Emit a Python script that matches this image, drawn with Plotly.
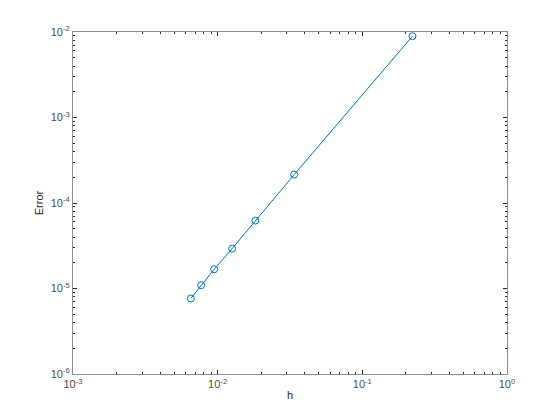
import plotly.graph_objects as go

h_values = [0.00653, 0.00769, 0.00946, 0.01259, 0.01824, 0.0338, 0.222]
error_values = [7.64e-6, 1.094e-5, 1.68e-5, 2.93e-5, 6.22e-5, 2.15e-4, 8.93e-3]

x_tickvals = [1e-3, 1e-2, 1e-1, 1e0]
x_ticktext = ["10<sup>-3</sup>", "10<sup>-2</sup>", "10<sup>-1</sup>", "10<sup>0</sup>"]
y_tickvals = [1e-6, 1e-5, 1e-4, 1e-3, 1e-2]
y_ticktext = ["10<sup>-6</sup>", "10<sup>-5</sup>", "10<sup>-4</sup>", "10<sup>-3</sup>", "10<sup>-2</sup>"]
minor_mults = [2, 3, 4, 5, 6, 7, 8, 9]
x_minor = [m * d for d in x_tickvals[:-1] for m in minor_mults]
y_minor = [m * d for d in y_tickvals[:-1] for m in minor_mults]

blue = "#0072BD"
axis_color = "#8c8c8c"
tick_color = "#262626"
text_color = "#4d4d4d"
font_family = "Liberation Sans, Arial, sans-serif"

fig = go.Figure()
fig.add_trace(go.Scatter(
    x=h_values, y=error_values, mode="lines+markers",
    line=dict(color=blue, width=1),
    marker=dict(symbol="circle-open", size=7, color=blue, line=dict(width=1, color=blue)),
    showlegend=False,
))
# invisible trace to anchor the minor-tick overlay axes
fig.add_trace(go.Scatter(x=[h_values[0]], y=[error_values[0]], xaxis="x2", yaxis="y2",
                         mode="markers", marker=dict(opacity=0), showlegend=False, hoverinfo="skip"))

major = dict(
    type="log", showgrid=False, zeroline=False, automargin=False,
    showline=True, linecolor=axis_color, linewidth=1, mirror="ticks",
    ticks="inside", ticklen=4, tickcolor=tick_color, tickwidth=1,
    tickfont=dict(family=font_family, size=11, color=text_color),
)
minor = dict(
    type="log", showgrid=False, zeroline=False, automargin=False,
    showline=False, mirror="ticks", showticklabels=False,
    ticks="inside", ticklen=2, tickcolor=tick_color, tickwidth=1,
)

fig.update_layout(
    width=560, height=420,
    margin=dict(l=65, r=61, t=24, b=54),
    paper_bgcolor="white", plot_bgcolor="white",
    xaxis=dict(range=[-3, 0], tickvals=x_tickvals, ticktext=x_ticktext,
               title=dict(text="h", font=dict(family=font_family, size=11, color="#262626"), standoff=2),
               **major),
    yaxis=dict(range=[-6, -2], tickvals=y_tickvals, ticktext=y_ticktext,
               title=dict(text="Error", font=dict(family=font_family, size=11, color="#262626"), standoff=4),
               **major),
    xaxis2=dict(range=[-3, 0], tickvals=x_minor, overlaying="x", anchor="y2", **minor),
    yaxis2=dict(range=[-6, -2], tickvals=y_minor, overlaying="y", anchor="x2", **minor),
)

fig.write_html("out.html")
